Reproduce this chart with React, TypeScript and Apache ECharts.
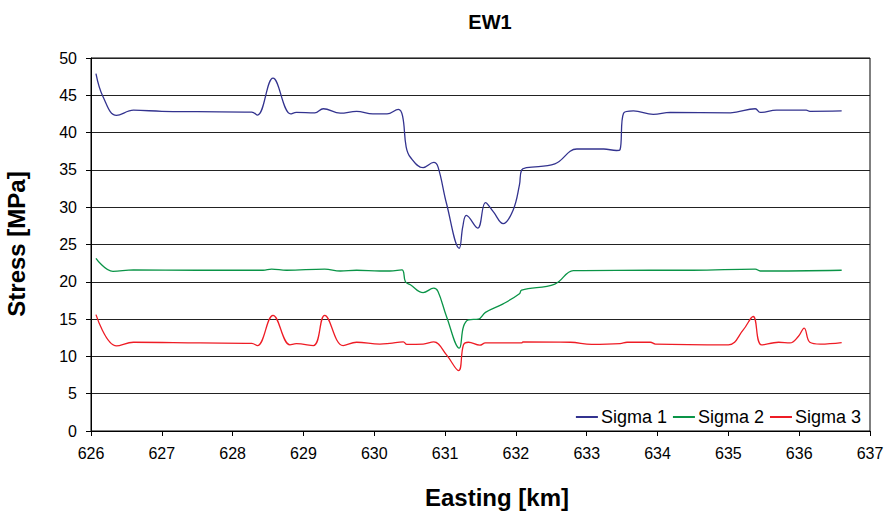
import React, { useEffect, useRef } from "react";
import * as echarts from "echarts";

const xTicks = [626, 627, 628, 629, 630, 631, 632, 633, 634, 635, 636, 637];
const yTicks = [0, 5, 10, 15, 20, 25, 30, 35, 40, 45, 50];

const sigma1X = [626.07, 626.17, 626.36, 626.6, 627.0, 627.5, 628.27, 628.35, 628.57, 628.82, 628.9, 629.16, 629.28, 629.52, 629.75, 629.98, 630.18, 630.34, 630.4, 630.45, 630.51, 630.69, 630.84, 630.9, 631.02, 631.2, 631.25, 631.3, 631.46, 631.57, 631.68, 631.82, 631.96, 632.05, 632.08, 632.15, 632.55, 632.86, 633.24, 633.42, 633.47, 633.52, 633.66, 633.94, 634.18, 635.03, 635.38, 635.45, 635.68, 636.1, 636.15, 636.6];
const sigma1Y = [47.9, 44.8, 42.3, 43.0, 42.85, 42.8, 42.75, 42.35, 47.3, 42.5, 42.7, 42.65, 43.2, 42.6, 42.85, 42.5, 42.5, 43.1, 42.2, 38.1, 36.7, 35.3, 36.0, 35.4, 30.5, 24.5, 27.4, 28.9, 27.2, 30.6, 29.4, 27.8, 29.6, 33.0, 35.0, 35.3, 35.8, 37.8, 37.8, 37.6, 37.7, 42.6, 42.9, 42.45, 42.7, 42.65, 43.2, 42.7, 43.0, 43.0, 42.85, 42.9];

const sigma2X = [626.07, 626.31, 626.6, 627.5, 628.43, 628.55, 628.76, 629.3, 629.52, 629.75, 630.08, 630.22, 630.39, 630.44, 630.51, 630.69, 630.84, 630.9, 631.02, 631.2, 631.26, 631.33, 631.47, 631.57, 631.82, 632.05, 632.08, 632.55, 632.81, 632.95, 633.9, 634.5, 635.38, 635.45, 636.6];
const sigma2Y = [23.15, 21.4, 21.6, 21.55, 21.55, 21.7, 21.55, 21.7, 21.45, 21.55, 21.45, 21.45, 21.6, 20.0, 19.6, 18.55, 19.15, 18.7, 15.35, 11.1, 14.0, 14.9, 15.0, 15.9, 17.05, 18.4, 18.9, 19.7, 21.5, 21.5, 21.55, 21.55, 21.7, 21.45, 21.55];

const sigma3X = [626.07, 626.36, 626.6, 627.54, 628.27, 628.35, 628.57, 628.81, 628.9, 629.14, 629.3, 629.56, 629.75, 630.08, 630.22, 630.41, 630.46, 630.69, 630.84, 631.02, 631.19, 631.26, 631.33, 631.49, 631.57, 632.08, 632.1, 632.77, 633.07, 633.47, 633.57, 633.9, 633.97, 635.0, 635.21, 635.35, 635.47, 635.71, 635.87, 635.99, 636.07, 636.15, 636.3, 636.6];
const sigma3Y = [15.6, 11.4, 11.9, 11.8, 11.75, 11.45, 15.5, 11.55, 11.7, 11.45, 15.5, 11.45, 11.9, 11.65, 11.75, 11.95, 11.6, 11.65, 11.95, 10.2, 8.1, 11.55, 11.9, 11.5, 11.8, 11.8, 11.95, 11.9, 11.6, 11.7, 11.9, 11.9, 11.65, 11.55, 13.55, 15.35, 11.55, 11.9, 11.8, 12.7, 13.8, 11.9, 11.65, 11.85];

const seriesNames = ["Sigma 1", "Sigma 2", "Sigma 3"];
const seriesColors = ["#33338f", "#0a9447", "#ee1c25"];

const FONT = '"Liberation Sans", Arial, sans-serif';

function pairs(xs: number[], ys: number[]) {
  return xs.map((x, i) => [x, ys[i]]);
}

export default function App() {
  const ref = useRef<HTMLDivElement>(null);
  useEffect(() => {
    if (!ref.current) return;
    const chart = echarts.init(ref.current, null, { renderer: "svg" });
    const data = [pairs(sigma1X, sigma1Y), pairs(sigma2X, sigma2Y), pairs(sigma3X, sigma3Y)];
    chart.setOption({
      animation: false,
      backgroundColor: "#fff",
      grid: {
        left: 91,
        right: 18,
        top: 58,
        bottom: 82,
        show: true,
        borderColor: "#000",
        borderWidth: 1,
        backgroundColor: "transparent",
      },
      legend: {
        right: 22,
        top: 403,
        itemWidth: 22,
        itemHeight: 2,
        itemGap: 6,
        icon: "rect",
        data: seriesNames.map((n) => ({ name: n, icon: "rect" })),
        textStyle: { fontFamily: FONT, fontSize: 18, color: "#000", padding: [0, 0, 0, -2] },
      },
      xAxis: {
        type: "value",
        min: xTicks[0],
        max: xTicks[xTicks.length - 1],
        interval: 1,
        axisLine: { show: true, lineStyle: { color: "#000", width: 1 } },
        axisTick: { show: true, length: 5, lineStyle: { color: "#000" } },
        splitLine: { show: false },
        axisLabel: { fontFamily: FONT, fontSize: 16, color: "#000", margin: 14 },
      },
      yAxis: {
        type: "value",
        min: yTicks[0],
        max: yTicks[yTicks.length - 1],
        interval: 5,
        axisLine: { show: true, lineStyle: { color: "#000", width: 1 } },
        axisTick: { show: true, length: 5, lineStyle: { color: "#000" } },
        splitLine: { show: true, lineStyle: { color: "#222", width: 1 } },
        axisLabel: { fontFamily: FONT, fontSize: 16, color: "#000", margin: 14 },
      },
      graphic: [
        {
          type: "text",
          x: 490,
          y: 22,
          style: { text: "EW1", font: `bold 20px ${FONT}`, fill: "#000", align: "center", verticalAlign: "middle" },
        },
        {
          type: "text",
          x: 497,
          y: 497,
          style: { text: "Easting [km]", font: `bold 24px ${FONT}`, fill: "#000", align: "center", verticalAlign: "middle" },
        },
        {
          type: "text",
          x: 16,
          y: 244,
          rotation: Math.PI / 2,
          style: { text: "Stress [MPa]", font: `bold 24px ${FONT}`, fill: "#000", align: "center", verticalAlign: "middle" },
        },
      ],
      series: seriesNames.map((name, i) => ({
        name,
        type: "line",
        data: data[i],
        symbol: "none",
        smooth: 0.4,
        color: seriesColors[i],
        itemStyle: { color: seriesColors[i] },
        lineStyle: { color: seriesColors[i], width: 1.3 },
      })),
    });
    return () => chart.dispose();
  }, []);
  return <div ref={ref} style={{ position: "fixed", left: 0, top: 0, width: 888, height: 513 }} />;
}
